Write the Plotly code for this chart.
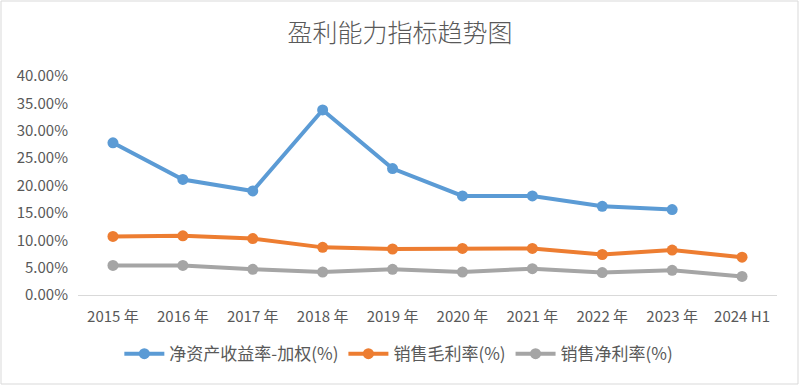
import plotly.graph_objects as go

categories = ["2015 年", "2016 年", "2017 年", "2018 年", "2019 年", "2020 年", "2021 年", "2022 年", "2023 年", "2024 H1"]
roe_weighted = [0.278, 0.211, 0.190, 0.338, 0.231, 0.181, 0.181, 0.162, 0.156, None]
gross_margin = [0.107, 0.108, 0.103, 0.087, 0.084, 0.085, 0.085, 0.074, 0.082, 0.069]
net_margin = [0.054, 0.054, 0.047, 0.042, 0.047, 0.042, 0.048, 0.041, 0.045, 0.034]
series_names = ["净资产收益率-加权(%)", "销售毛利率(%)", "销售净利率(%)"]
colors = ["#5B9BD5", "#ED7D31", "#A5A5A5"]

font_family = "Noto Sans CJK SC, Noto Sans, sans-serif"
fig = go.Figure()
for name, vals, c in zip(series_names, [roe_weighted, gross_margin, net_margin], colors):
    fig.add_trace(go.Scatter(
        x=categories, y=vals, name=name, mode="lines+markers",
        line=dict(color=c, width=4), marker=dict(color=c, size=11),
        connectgaps=False,
    ))

fig.update_layout(
    width=800, height=386,
    margin=dict(l=78, r=23, t=76, b=91),
    paper_bgcolor="white", plot_bgcolor="white",
    font=dict(family=font_family, color="#595959", size=14),
    title=dict(text="盈利能力指标趋势图", x=0.5, xanchor="center", y=0.915, yanchor="middle",
               font=dict(size=25, color="#595959", family=font_family, weight=300)),
    xaxis=dict(type="category", range=[-0.5, 9.5], showgrid=False, showline=True,
               linecolor="#D9D9D9", linewidth=1, ticks="", tickfont=dict(size=15),
               ticklabelstandoff=8),
    yaxis=dict(range=[0, 0.4], tickvals=[i * 0.05 for i in range(9)], tickformat=".2%",
               showgrid=False, zeroline=False, showline=False, ticks="", tickfont=dict(size=15),
               automargin=False, ticklabelstandoff=9),
    legend=dict(orientation="h", x=0.459, xanchor="center", y=-0.27, yanchor="middle",
                font=dict(size=17, color="#595959"), itemwidth=40, traceorder="normal"),
    showlegend=True,
)
fig.add_shape(type="rect", xref="paper", yref="paper",
              x0=(1 - 78) / 699, x1=(798 - 78) / 699,
              y0=(295 - 384) / 219, y1=(295 - 1) / 219,
              line=dict(color="#D9D9D9", width=1), layer="below")
fig.write_html("out.html", post_script="document.body.style.margin='0';",
               config={"displayModeBar": False})
